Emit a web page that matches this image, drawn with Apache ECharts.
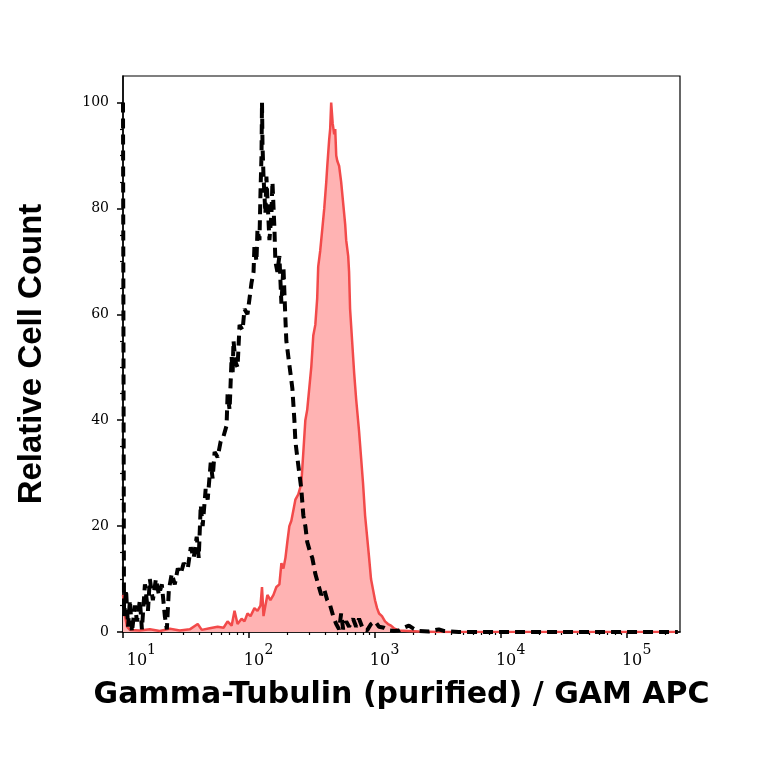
<!DOCTYPE html>
<html>
<head>
<meta charset="utf-8">
<script src="https://cdn.jsdelivr.net/npm/echarts@6/dist/echarts.min.js"></script>
<style>
  html, body { margin: 0; padding: 0; background: #fff; }
  #chart { width: 764px; height: 764px; }
</style>
</head>
<body>
<div id="chart"></div>
<script>
var dom = document.getElementById("chart");
var myChart = echarts.init(dom);

// control (isotype) histogram, dashed black: log10 intensity / relative count
var ctrlLog = [1.000, 1.008, 1.024, 1.040, 1.055, 1.071, 1.095, 1.111, 1.134, 1.150,
  1.174, 1.198, 1.213, 1.237, 1.261, 1.285, 1.308, 1.332, 1.348, 1.364,
  1.387, 1.411, 1.435, 1.458, 1.482, 1.514, 1.538, 1.561, 1.585, 1.601,
  1.617, 1.632, 1.656, 1.672, 1.696, 1.711, 1.727, 1.751, 1.775, 1.798,
  1.822, 1.830, 1.846, 1.854, 1.862, 1.870, 1.877, 1.893, 1.909, 1.925,
  1.949, 1.964, 1.988, 2.004, 2.020, 2.036, 2.043, 2.059, 2.067, 2.083,
  2.091, 2.099, 2.103, 2.107, 2.115, 2.130, 2.138, 2.154, 2.162, 2.178,
  2.186, 2.202, 2.209, 2.225, 2.241, 2.257, 2.273, 2.281, 2.289, 2.296,
  2.312, 2.328, 2.344, 2.360, 2.368, 2.383, 2.399, 2.415, 2.431, 2.447,
  2.462, 2.486, 2.502, 2.526, 2.549, 2.573, 2.597, 2.621, 2.644, 2.668,
  2.692, 2.715, 2.731, 2.747, 2.771, 2.794, 2.826, 2.850, 2.873, 2.905,
  2.937, 2.968, 3.000, 3.032, 3.071, 3.111, 3.150, 3.190, 3.229, 3.269,
  3.308, 3.348, 3.427, 3.506, 3.545, 3.664, 5.403];
var ctrlCount = [100, 3, 8, 1, 6, 0, 5, 2, 6, 0.5,
  9, 4, 10, 6, 10, 7, 9, 3, 0.5, 8,
  11, 9, 12, 11, 13, 12, 16, 14, 18, 14,
  24, 20, 27, 25, 32, 29, 34, 33, 36, 37,
  39, 45, 42, 47, 52, 49, 55, 51, 50, 58,
  57, 61, 60, 63, 66, 68, 73, 70, 76, 74,
  83, 90, 100, 92, 86, 79, 86, 78, 74, 79,
  85, 76, 70, 68, 71, 62, 69, 64, 59, 55,
  52, 49, 46, 40, 36, 33, 30, 27, 22, 20,
  17, 15, 14, 11, 9, 7, 8, 6, 5, 3,
  1.5, 0.5, 3.5, 0.5, 2, 1, 2.5, 1, 2.5, 0.5,
  0.3, 1.5, 2, 1, 0.8, 0.3, 0.2, 0.3, 0.8, 1.2,
  0.6, 0.2, 0.1, 0.5, 0.2, 0, 0];

// Gamma-Tubulin stained histogram, red filled
var stainLog = [1.000, 1.016, 1.032, 1.055, 1.134, 1.213, 1.292, 1.372, 1.451, 1.530,
  1.593, 1.625, 1.688, 1.751, 1.798, 1.830, 1.862, 1.885, 1.909, 1.941,
  1.964, 1.988, 2.012, 2.043, 2.067, 2.091, 2.103, 2.115, 2.130, 2.146,
  2.170, 2.194, 2.217, 2.241, 2.257, 2.273, 2.289, 2.304, 2.320, 2.336,
  2.352, 2.368, 2.391, 2.415, 2.431, 2.447, 2.462, 2.478, 2.494, 2.510,
  2.526, 2.541, 2.549, 2.565, 2.581, 2.597, 2.613, 2.621, 2.636, 2.644,
  2.652, 2.664, 2.676, 2.684, 2.692, 2.700, 2.715, 2.731, 2.747, 2.763,
  2.771, 2.787, 2.794, 2.802, 2.818, 2.834, 2.850, 2.873, 2.889, 2.905,
  2.921, 2.937, 2.953, 2.968, 2.984, 3.000, 3.016, 3.032, 3.055, 3.079,
  3.103, 3.127, 3.150, 3.190, 3.269, 3.348, 3.506, 5.403];
var stainCount = [7, 3, 1, 0.4, 0.3, 0.5, 0.2, 0.6, 0.3, 0.5,
  1.5, 0.4, 0.7, 1, 0.8, 2, 1.2, 4, 1.5, 2.5,
  2, 3.5, 3, 4.5, 4, 5, 8.5, 3, 5, 7,
  6, 7, 8.5, 9, 13, 12, 14, 17, 20, 21,
  23, 25, 26, 28, 34, 40, 42, 46, 50, 56,
  58, 63, 69, 72, 76, 80, 85, 88, 93, 95,
  100, 96, 94, 95, 90, 89, 88, 85, 81, 77,
  74, 71, 68, 61, 55, 49, 44, 38, 33, 28,
  22, 18, 14, 10, 8, 6, 4.5, 3.5, 3, 2,
  1.5, 1.2, 0.7, 0.3, 0.2, 0.1, 0, 0];

var xMajor = [10, 100, 1000, 10000, 100000];
var xMinor = [];
xMajor.forEach(function (d) {
  for (var k = 2; k <= 9; k++) {
    if (d * k < 263000) xMinor.push(d * k);
  }
});
var yMajor = [0, 20, 40, 60, 80, 100];
var yMinor = [5, 10, 15, 25, 30, 35, 45, 50, 55, 65, 70, 75, 85, 90, 95];

var serif = "DejaVu Serif";
var xMin = 10, xMax = 263000, yMin = 0, yMax = 105;

function pairs(lx, ly) {
  return lx.map(function (v, i) { return [Math.pow(10, v), ly[i]]; });
}

var option = {
  animation: false,
  backgroundColor: '#fff',
  grid: {
    left: 123, right: 84, top: 76, bottom: 132,
    show: true, borderColor: '#000', borderWidth: 1.2
  },
  xAxis: [
    {
      type: 'log', logBase: 10, min: xMin, max: xMax,
      name: 'Gamma-Tubulin (purified) / GAM APC',
      nameLocation: 'middle', nameGap: 48,
      nameTextStyle: { fontFamily: 'DejaVu Sans', fontWeight: 'bold', fontSize: 30, color: '#000' },
      axisLine: { lineStyle: { color: '#000', width: 1.5 } },
      axisTick: { customValues: xMajor, length: 6, lineStyle: { color: '#000', width: 1.5 } },
      splitLine: { show: false },
      minorTick: { show: false },
      axisLabel: {
        customValues: xMajor, margin: 13,
        formatter: function (v) {
          var e = Math.round(Math.log(v) / Math.LN10);
          // exponent on its own upper line, pushed right of the "10"
          return e === 1 ? '{s1|' + e + '}\n{b1|10}' : '{s|' + e + '}\n{b|10}';
        },
        rich: {
          b: { fontFamily: serif, fontSize: 16, color: '#000', lineHeight: 12, padding: [0, 0, 0, 10] },
          s: { fontFamily: serif, fontSize: 14, color: '#000', lineHeight: 10, padding: [0, 0, 0, 40] },
          b1: { fontFamily: serif, fontSize: 16, color: '#000', lineHeight: 12, padding: [0, 0, 0, 28] },
          s1: { fontFamily: serif, fontSize: 14, color: '#000', lineHeight: 10, padding: [0, 0, 0, 57] }
        }
      }
    },
    {
      type: 'log', logBase: 10, min: xMin, max: xMax, position: 'bottom',
      axisLine: { show: false },
      axisLabel: { show: false },
      splitLine: { show: false },
      axisTick: { customValues: xMinor, length: 3, lineStyle: { color: '#000', width: 1.2 } }
    }
  ],
  yAxis: [
    {
      type: 'value', min: yMin, max: yMax,
      name: 'Relative Cell Count',
      nameLocation: 'middle', nameGap: 75,
      nameTextStyle: { fontFamily: 'Liberation Sans', fontWeight: 'bold', fontSize: 33, color: '#000' },
      axisLine: { show: true, lineStyle: { color: '#000', width: 1.5 } },
      axisTick: { show: true, customValues: yMajor, length: 6, lineStyle: { color: '#000', width: 1.5 } },
      axisLabel: { customValues: yMajor, margin: 14, fontFamily: serif, fontSize: 14, color: '#000' },
      splitLine: { show: false }
    },
    {
      type: 'value', min: yMin, max: yMax, position: 'left',
      axisLine: { show: false },
      axisLabel: { show: false },
      splitLine: { show: false },
      axisTick: { show: true, customValues: yMinor, length: 3, lineStyle: { color: '#000', width: 1.2 } }
    }
  ],
  series: [
    {
      name: 'Gamma-Tubulin',
      type: 'line',
      data: pairs(stainLog, stainCount),
      symbol: 'none',
      z: 2,
      lineStyle: { color: '#f24a4a', width: 2.5 },
      areaStyle: { color: '#ffb3b3', opacity: 1 }
    },
    {
      name: 'Control',
      type: 'line',
      data: pairs(ctrlLog, ctrlCount),
      symbol: 'none',
      z: 3,
      lineStyle: { color: '#000', width: 4, type: [10, 6] }
    }
  ]
};

myChart.setOption(option);
</script>
</body>
</html>
